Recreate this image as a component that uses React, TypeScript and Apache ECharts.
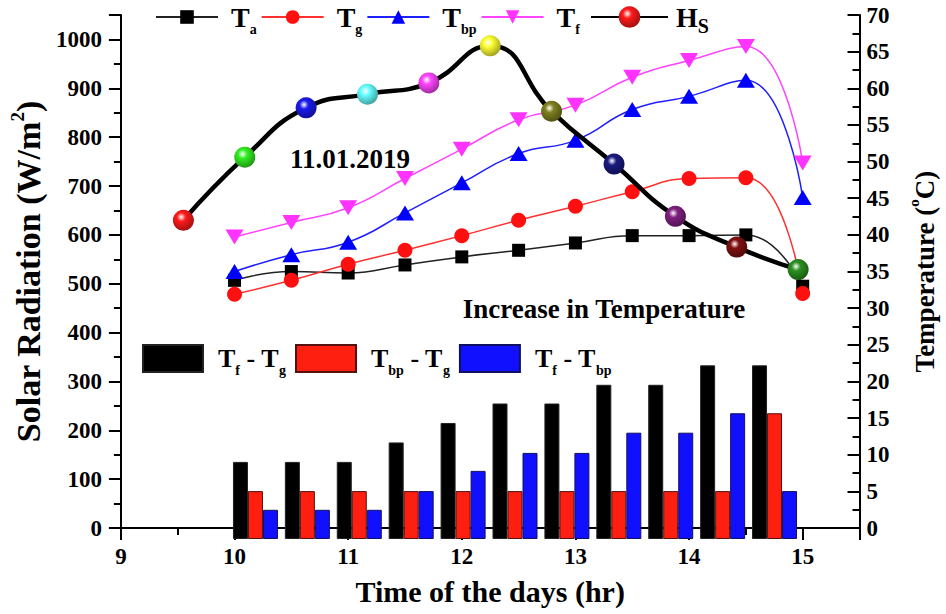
import React, { useEffect, useRef } from "react";
import * as echarts from "echarts";

const FONT = '"Liberation Serif", "Times New Roman", Times, serif';

// Temperatures (°C, right axis) at each half hour
const timeHours = [10, 10.5, 11, 11.5, 12, 12.5, 13, 13.5, 14, 14.5, 15];
const tAmbient = [33.8, 35, 34.8, 35.9, 37, 37.9, 38.9, 39.9, 39.9, 40, 33];
const tGlass = [31.9, 33.8, 36, 37.9, 39.9, 42, 43.9, 45.9, 47.7, 47.8, 32];
const tBasin = [35, 37.3, 39, 43, 47.1, 51.1, 52.9, 57.1, 58.9, 61.1, 45.1];
const tFluid = [39.7, 41.7, 43.7, 47.7, 51.7, 55.7, 57.7, 61.5, 63.8, 65.7, 49.8];

// Solar radiation (W/m², left axis)
const hsHours = [9.55, 10.09, 10.63, 11.17, 11.71, 12.25, 12.79, 13.34, 13.88, 14.42, 14.96];
const hsValues = [630, 759, 860, 888, 911, 987, 853, 745, 638, 575, 529];
const hsColors = [
  "#ff1a1a", "#33ee22", "#1a1aee", "#66ffff", "#ff44ff", "#ffff33",
  "#808020", "#1a1a80", "#802080", "#801010", "#2a9020",
];

// Temperature differences (bars, read on right axis)
const barSlots = ["10", "10.5", "11", "11.5", "12", "12.5", "13", "13.5", "14", "14.5", "15"];
const diffFG = [10.3, 10.3, 10.3, 12.9, 15.5, 18.1, 18.1, 20.6, 20.6, 23.2, 23.2];
const diffBG = [6.4, 6.4, 6.4, 6.4, 6.4, 6.4, 6.4, 6.4, 6.4, 6.4, 16.8];
const diffFB = [3.9, 3.9, 3.9, 6.4, 9.1, 11.5, 11.5, 14.2, 14.2, 16.8, 6.4];

const leftTicks = [0, 100, 200, 300, 400, 500, 600, 700, 800, 900, 1000];

function darken(hex: string, f: number) {
  const n = parseInt(hex.slice(1), 16);
  const r = Math.round(((n >> 16) & 255) * f);
  const g = Math.round(((n >> 8) & 255) * f);
  const b = Math.round((n & 255) * f);
  return `rgb(${r},${g},${b})`;
}

function sphere(c: string) {
  return {
    type: "radial",
    x: 0.4,
    y: 0.35,
    r: 0.7,
    colorStops: [
      { offset: 0, color: "#ffffff" },
      { offset: 0.3, color: c },
      { offset: 1, color: darken(c, 0.6) },
    ],
  } as any;
}

const legendLabels: Record<string, string> = {
  Ta: "{f|T}{s|a}",
  Tg: "{f|T}{s|g}",
  Tbp: "{f|T}{s|bp}",
  Tf: "{f|T}{s|f}",
  Hs: "{f|H}{S|S}",
  "Tf - Tg": "{f|T}{s|f}{m| - T}{s|g}",
  "Tbp - Tg": "{f|T}{s|bp}{m| - T}{s|g}",
  "Tf - Tbp": "{f|T}{s|f}{m| - T}{s|bp}",
};

function richText(padLeft: number, size: number) {
  return {
    fontFamily: FONT,
    fontWeight: "bold",
    color: "#000",
    rich: {
      f: { fontFamily: FONT, fontWeight: "bold", fontSize: size, lineHeight: 38, color: "#000", padding: [0, 0, 0, padLeft] },
      m: { fontFamily: FONT, fontWeight: "bold", fontSize: size, lineHeight: 38, color: "#000" },
      s: { fontFamily: FONT, fontWeight: "bold", fontSize: 14, lineHeight: 12, verticalAlign: "bottom", color: "#000" },
      S: { fontFamily: FONT, fontWeight: "bold", fontSize: 20, lineHeight: 14, verticalAlign: "bottom", color: "#000" },
    },
  };
}

const axisLabelStyle = { fontFamily: FONT, fontWeight: "bold", fontSize: 23, color: "#000" };
const axisLineStyle = { color: "#000", width: 2 };

export default function App() {
  const ref = useRef<HTMLDivElement>(null);

  useEffect(() => {
    if (!ref.current) return;
    const chart = echarts.init(ref.current, undefined, { renderer: "svg" });

    const option: any = {
      animation: false,
      backgroundColor: "#fff",
      grid: [
        { left: 117.5, width: 742.5, top: 15, height: 524 },
        { left: 229.5, width: 571, top: 15, height: 524 },
      ],
      legend: [
        {
          data: ["Ta", "Tg", "Tbp", "Tf"],
          left: 155,
          top: 3,
          padding: 0,
          itemWidth: 62,
          itemHeight: 17,
          itemGap: 4,
          formatter: (n: string) => legendLabels[n],
          textStyle: richText(8, 28),
        },
        {
          data: ["Hs"],
          left: 590,
          top: 3,
          padding: 0,
          itemWidth: 77,
          itemHeight: 27,
          formatter: (n: string) => legendLabels[n],
          textStyle: richText(3, 28),
        },
        {
          data: [
            { name: "Tf - Tg", icon: "rect" },
            { name: "Tbp - Tg", icon: "rect" },
            { name: "Tf - Tbp", icon: "rect" },
          ],
          left: 142,
          top: 344,
          padding: 0,
          itemWidth: 60,
          itemHeight: 27,
          itemGap: 9,
          formatter: (n: string) => legendLabels[n],
          textStyle: richText(10, 26),
        },
      ],
      xAxis: [
        {
          type: "value",
          gridIndex: 0,
          min: 9,
          max: 15.5,
          interval: 1,
          axisLine: { show: true, onZero: false, lineStyle: axisLineStyle },
          axisTick: { show: true, length: 12, lineStyle: axisLineStyle },
          minorTick: { show: true, splitNumber: 2, length: 7, lineStyle: axisLineStyle },
          splitLine: { show: false },
          axisLabel: {
            ...axisLabelStyle,
            margin: 17,
            formatter: (v: number) => (Number.isInteger(v) ? String(v) : ""),
          },
          name: "Time of the days (hr)",
          nameLocation: "middle",
          nameGap: 40,
          nameTextStyle: { fontFamily: FONT, fontWeight: "bold", fontSize: 30, color: "#000", lineHeight: 36 },
        },
        {
          type: "category",
          gridIndex: 1,
          data: barSlots,
          boundaryGap: true,
          show: false,
        },
      ],
      yAxis: [
        {
          type: "value",
          gridIndex: 0,
          position: "left",
          min: 0,
          max: 1050,
          interval: 100,
          axisLine: { show: true, onZero: false, lineStyle: axisLineStyle },
          axisTick: { show: true, length: 12, lineStyle: axisLineStyle },
          minorTick: { show: true, splitNumber: 2, length: 7, lineStyle: axisLineStyle },
          splitLine: { show: false },
          axisLabel: {
            ...axisLabelStyle,
            margin: 19,
            formatter: (v: number) => (leftTicks.indexOf(v) >= 0 ? String(v) : ""),
          },
          name: "{a|Solar Radiation (W/m}{b|2}{a|)}",
          nameLocation: "middle",
          nameRotate: 90,
          nameGap: 69,
          nameTextStyle: {
            rich: {
              a: { fontFamily: FONT, fontWeight: "bold", fontSize: 34, lineHeight: 40, color: "#000" },
              b: { fontFamily: FONT, fontWeight: "bold", fontSize: 19, lineHeight: 16, verticalAlign: "top", color: "#000" },
            },
          },
        },
        {
          type: "value",
          gridIndex: 0,
          position: "right",
          min: 0,
          max: 70,
          interval: 5,
          axisLine: { show: true, onZero: false, lineStyle: axisLineStyle },
          axisTick: { show: true, inside: true, length: 12, lineStyle: axisLineStyle },
          minorTick: { show: true, splitNumber: 2, length: 7, lineStyle: axisLineStyle },
          splitLine: { show: false },
          axisLabel: { ...axisLabelStyle, margin: 7 },
          name: "{a|Temperature (}{b|o}{a|C)}",
          nameLocation: "middle",
          nameRotate: 90,
          nameGap: 47,
          nameTextStyle: {
            rich: {
              a: { fontFamily: FONT, fontWeight: "bold", fontSize: 27, lineHeight: 36, color: "#000" },
              b: { fontFamily: FONT, fontWeight: "bold", fontSize: 15, lineHeight: 14, verticalAlign: "top", color: "#000" },
            },
          },
        },
        {
          type: "value",
          gridIndex: 1,
          min: 0,
          max: 70,
          show: false,
        },
      ],
      graphic: [
        {
          type: "text",
          x: 350,
          y: 159,
          style: {
            text: "11.01.2019",
            fontFamily: FONT,
            fontWeight: "bold",
            fontSize: 27,
            fill: "#000",
            align: "center",
            verticalAlign: "middle",
          },
        },
        {
          type: "text",
          x: 604,
          y: 309,
          style: {
            text: "Increase in Temperature",
            fontFamily: FONT,
            fontWeight: "bold",
            fontSize: 27,
            fill: "#000",
            align: "center",
            verticalAlign: "middle",
          },
        },
      ],
      series: [
        {
          type: "bar",
          name: "Tf - Tg",
          xAxisIndex: 1,
          yAxisIndex: 2,
          data: diffFG,
          barWidth: 15,
          barGap: "0%",
          itemStyle: { color: "#000", borderColor: "#222", borderWidth: 1 },
        },
        {
          type: "bar",
          name: "Tbp - Tg",
          xAxisIndex: 1,
          yAxisIndex: 2,
          data: diffBG,
          barWidth: 15,
          barGap: "0%",
          itemStyle: { color: "#ff1f10", borderColor: "#551010", borderWidth: 1 },
        },
        {
          type: "bar",
          name: "Tf - Tbp",
          xAxisIndex: 1,
          yAxisIndex: 2,
          data: diffFB,
          barWidth: 15,
          barGap: "0%",
          itemStyle: { color: "#1010ff", borderColor: "#101060", borderWidth: 1 },
        },
        {
          type: "line",
          name: "Ta",
          xAxisIndex: 0,
          yAxisIndex: 1,
          data: timeHours.map((t, i) => [t, tAmbient[i]]),
          smooth: 0.5,
          symbol: "rect",
          symbolSize: 13,
          lineStyle: { color: "#222", width: 1.5 },
          itemStyle: { color: "#000" },
        },
        {
          type: "line",
          name: "Tg",
          xAxisIndex: 0,
          yAxisIndex: 1,
          data: timeHours.map((t, i) => [t, tGlass[i]]),
          smooth: 0.5,
          symbol: "circle",
          symbolSize: 15,
          lineStyle: { color: "#ff3030", width: 1.5 },
          itemStyle: { color: "#ff1010" },
        },
        {
          type: "line",
          name: "Tbp",
          xAxisIndex: 0,
          yAxisIndex: 1,
          data: timeHours.map((t, i) => [t, tBasin[i]]),
          smooth: 0.5,
          symbol: "triangle",
          symbolSize: [18, 15],
          lineStyle: { color: "#2020ff", width: 1.5 },
          itemStyle: { color: "#0000ff" },
        },
        {
          type: "line",
          name: "Tf",
          xAxisIndex: 0,
          yAxisIndex: 1,
          data: timeHours.map((t, i) => [t, tFluid[i]]),
          smooth: 0.5,
          symbol: "triangle",
          symbolRotate: 180,
          symbolSize: [18, 15],
          lineStyle: { color: "#ff44ff", width: 1.5 },
          itemStyle: { color: "#ff33ff" },
        },
        {
          type: "line",
          name: "Hs",
          xAxisIndex: 0,
          yAxisIndex: 0,
          data: hsHours.map((t, i) => ({
            value: [t, hsValues[i]],
            itemStyle: { color: sphere(hsColors[i]) },
          })),
          smooth: 0.5,
          symbol: "circle",
          symbolSize: 21,
          lineStyle: { color: "#000", width: 4.5 },
          itemStyle: { color: sphere(hsColors[0]) },
          z: 5,
        },
      ],
    };

    chart.setOption(option);
    return () => chart.dispose();
  }, []);

  return (
    <div
      ref={ref}
      style={{ position: "absolute", left: 0, top: 0, width: 946, height: 614, background: "#fff" }}
    />
  );
}
